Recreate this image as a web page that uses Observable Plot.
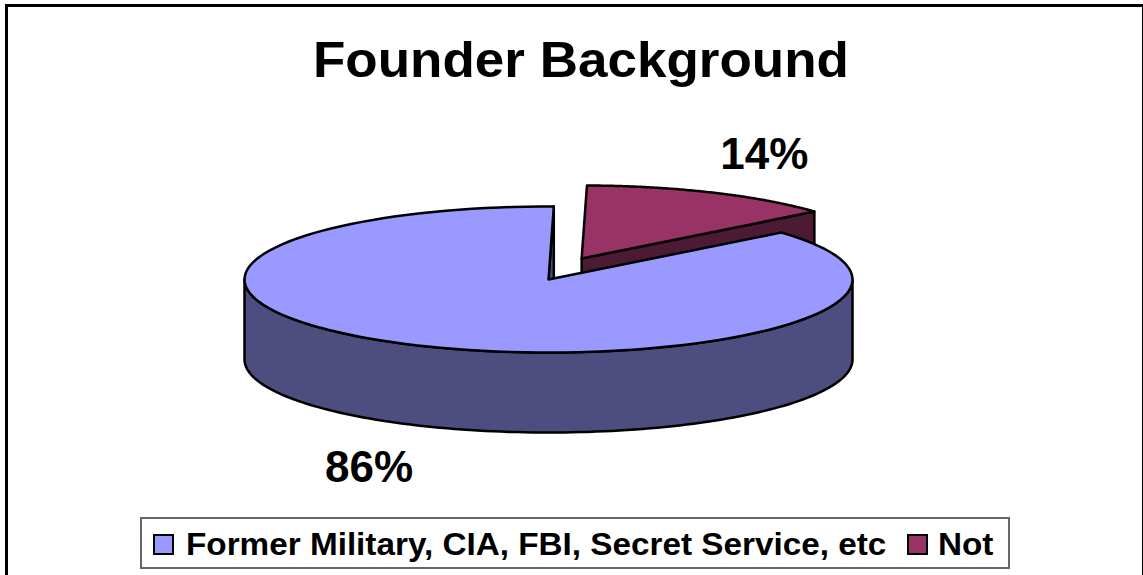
<!DOCTYPE html>
<html>
<head>
<meta charset="utf-8">
<script src="https://cdn.jsdelivr.net/npm/d3@7"></script>
<script src="https://cdn.jsdelivr.net/npm/@observablehq/plot@0.6"></script>
<style>
html,body{margin:0;padding:0;background:#fff;overflow:hidden}
#wrap{position:relative;width:1143px;height:575px;font-family:"Liberation Sans",Arial,sans-serif;font-weight:bold;color:#000}
#wrap svg{position:absolute;left:0;top:0}
#frame{position:absolute;left:5px;top:4px;width:1140px;height:580px;border:3px solid #000;box-sizing:border-box}
#title{position:absolute;left:313px;top:32px;font-size:50px;line-height:56px;white-space:nowrap;transform-origin:0 50%;transform:scaleX(1.06)}
#legend{position:absolute;left:140px;top:517px;width:870px;height:52px;box-sizing:border-box;border:2px solid #666;background:#fff;font-size:32px;line-height:50px;white-space:nowrap}
#legend span{position:absolute;top:0;transform-origin:0 50%;transform:scaleX(1.04)}
#legend i{position:absolute;top:15px;width:17px;height:17px;border:2px solid #000;display:block}
</style>
</head>
<body>
<div id="wrap">
<div id="chart"></div>
<div id="frame"></div>
<div id="title">Founder Background</div>
<div id="legend"></div>
</div>
<script>
const categories = ["Former Military, CIA, FBI, Secret Service, etc", "Not"];
const shares = [86.4, 13.6];
const labels = ["86%", "14%"];
const topColors = ["#9999FF", "#993366"];
const sideColors = ["#4D4D80", "#4D1A33"];

// Pie projection, in radius units
const startDeg = 1;
const depth = 1.096;
const explode = [0, 0], explodeNot = [0.109, 0.288];

const notEnd = startDeg + shares[1] * 3.6;
const blueEnd = notEnd + shares[0] * 3.6;
const pt = (deg, off = [0, 0], drop = 0) => {
  const a = deg * Math.PI / 180;
  return {x: Math.sin(a) + off[0], y: Math.cos(a) + off[1] - drop};
};
const arc = (a, b, off, drop = 0) => d3.range(0, 121).map(i => pt(a + (b - a) * i / 120, off, drop));
const centre = (off, drop = 0) => ({x: off[0], y: off[1] - drop});

const blueTop = [centre(explode), ...arc(notEnd, blueEnd, explode)];
const redTop = [centre(explodeNot), ...arc(startDeg, notEnd, explodeNot)];
const blueRim = [...arc(90, 270, explode), ...arc(270, 90, explode, depth)];
const blueFace = [centre(explode), pt(blueEnd, explode), pt(blueEnd, explode, depth), centre(explode, depth)];
const redFace = [centre(explodeNot), pt(notEnd, explodeNot), pt(notEnd, explodeNot, depth), centre(explodeNot, depth)];

const poly = (data, fill) => Plot.line(data, {x: "x", y: "y", fill, stroke: "#000", strokeWidth: 2.5, curve: "linear-closed", strokeLinejoin: "round"});

const chart = Plot.plot({
  width: 1143, height: 575,
  margin: 0,
  x: {domain: [-548 / 304, 595 / 304], range: [0, 1143], axis: null},
  y: {domain: [-296 / 73, 279 / 73], range: [575, 0], axis: null},
  marks: [
    poly(redFace, sideColors[1]),
    poly(redTop, topColors[1]),
    poly(blueFace, sideColors[0]),
    poly(blueRim, sideColors[0]),
    poly(blueTop, topColors[0]),
    Plot.text([{t: labels[0], x: -0.59, y: -2.58}, {t: labels[1], x: 0.71, y: 1.71}], {
      x: "x", y: "y", text: "t", fontSize: 44, fontWeight: "bold", fontFamily: "Liberation Sans", fill: "#000"
    })
  ]
});
document.getElementById("chart").append(chart);

const legend = document.getElementById("legend");
const swatchX = [11, 765], textX = [44, 796];
categories.forEach((c, i) => {
  const sw = document.createElement("i");
  sw.style.left = swatchX[i] + "px";
  sw.style.background = topColors[i];
  legend.append(sw);
  const s = document.createElement("span");
  s.style.left = textX[i] + "px";
  s.textContent = c;
  legend.append(s);
});
</script>
</body>
</html>
